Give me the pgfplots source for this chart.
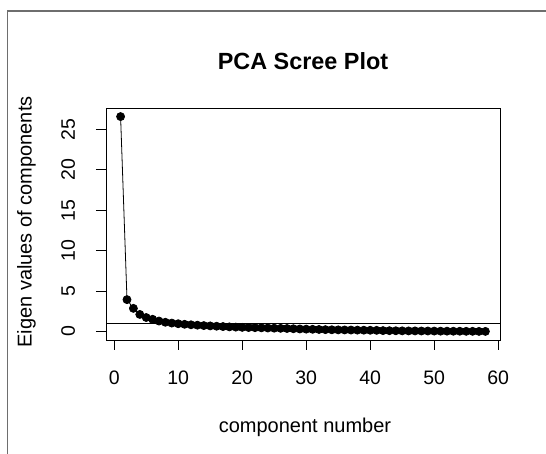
\documentclass[border=0pt]{standalone}
\usepackage{fontspec}
\setmainfont{Liberation Sans}
\usepackage{pgfplots}
\pgfplotsset{compat=1.18}
\pgfplotstableread{
x y
1 26.6
2 3.95
3 2.87
4 2.12
5 1.74
6 1.52
7 1.30
8 1.15
9 1.05
10 0.97
11 0.90
12 0.84
13 0.79
14 0.74
15 0.70
16 0.66
17 0.62
18 0.58
19 0.55
20 0.52
21 0.50
22 0.48
23 0.46
24 0.44
25 0.42
26 0.40
27 0.38
28 0.35
29 0.32
30 0.30
31 0.28
32 0.26
33 0.24
34 0.22
35 0.21
36 0.20
37 0.19
38 0.18
39 0.17
40 0.16
41 0.15
42 0.12
43 0.11
44 0.10
45 0.09
46 0.08
47 0.08
48 0.07
49 0.07
50 0.06
51 0.05
52 0.05
53 0.04
54 0.04
55 0.03
56 0.03
57 0.02
58 0.02
}\eigen
\begin{document}
\begin{tikzpicture}[x=1pt,y=1pt]
\path[use as bounding box] (0,0) rectangle (546,454);
\draw[color={rgb,255:red,110;green,110;blue,110}, line width=1.2pt] (7.8,0) -- (7.8,443) -- (546,443);
\begin{axis}[
  at={(106pt,114pt)}, anchor=south west, scale only axis,
  width=394pt, height=232pt,
  xmin=-1.28, xmax=60.28, ymin=-1.043, ymax=27.663,
  xtick={0,10,20,30,40,50,60}, ytick={0,5,10,15,20,25},
  xtick pos=left, ytick pos=left,
  tick align=outside, major tick length=10pt,
  tick style={black, line width=0.9pt},
  axis line style={black, line width=0.9pt},
  /pgf/number format/assume math mode=true,
  ticklabel style={font=\fontsize{19.5}{22}\selectfont},
  xticklabel style={anchor=base, yshift=-35pt},
  yticklabel shift=21pt,
  yticklabel style={rotate=90, anchor=base},
  clip=false,
]
\addplot[black, line width=0.9pt, forget plot] coordinates {(-1.28,1) (60.28,1)};
\addplot[black, line width=0.8pt, mark=*, mark size=4pt, mark options={solid, fill=black, draw=black}] table[x=x, y=y] {\eigen};
\end{axis}
\node[anchor=base, font=\fontsize{23.4}{26}\selectfont\bfseries] at (303,384.7) {PCA Scree Plot};
\node[anchor=base, font=\fontsize{20}{24}\selectfont] at (305,21.3) {component number};
\node[anchor=base, rotate=90, font=\fontsize{20}{24}\selectfont] at (31.5,232) {Eigen values of components};
\end{tikzpicture}
\end{document}
